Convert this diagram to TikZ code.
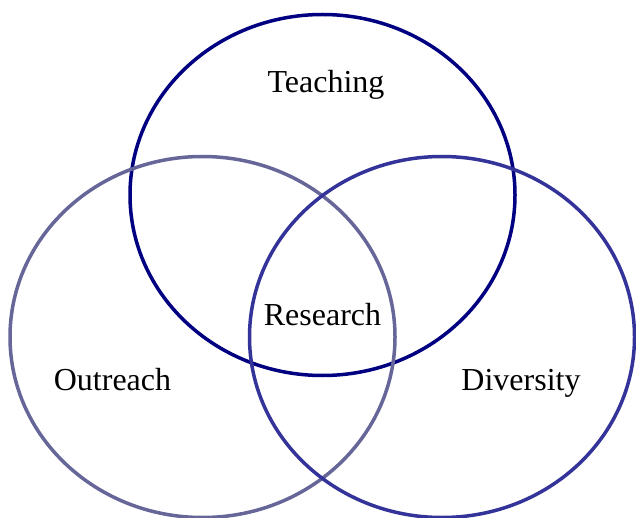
\documentclass[tikz,border=0pt]{standalone}
\usepackage{fontspec}
\setmainfont{Liberation Serif}
\usetikzlibrary{shapes.geometric}
\definecolor{teachcol}{RGB}{0,0,128}
\definecolor{outcol}{RGB}{102,102,153}
\definecolor{divcol}{RGB}{51,51,153}
\tikzset{
  area/.style={ellipse, draw, line width=3.5pt, inner sep=0pt,
    minimum width=385pt, minimum height=361pt},
  lbl/.style={font=\fontsize{32}{36}\selectfont, inner sep=0pt, anchor=base}
}

\begin{document}
\begin{tikzpicture}[x=1pt, y=-1pt]
  \useasboundingbox (0,0) rectangle (636,518);
  \node[area, draw=teachcol] (teach) at (322.5,195) {};
  \node[area, draw=outcol] (out) at (202.5,337) {};
  \node[area, draw=divcol] (div) at (442,337) {};

  \node[lbl] (teaching) at (326,93) {Teaching};
  \node[lbl] (research) at (322.5,325) {Research};
  \node[lbl] (outreach) at (112.5,390) {Outreach};
  \node[lbl] (diversity) at (521,390) {Diversity};
\end{tikzpicture}
\end{document}
